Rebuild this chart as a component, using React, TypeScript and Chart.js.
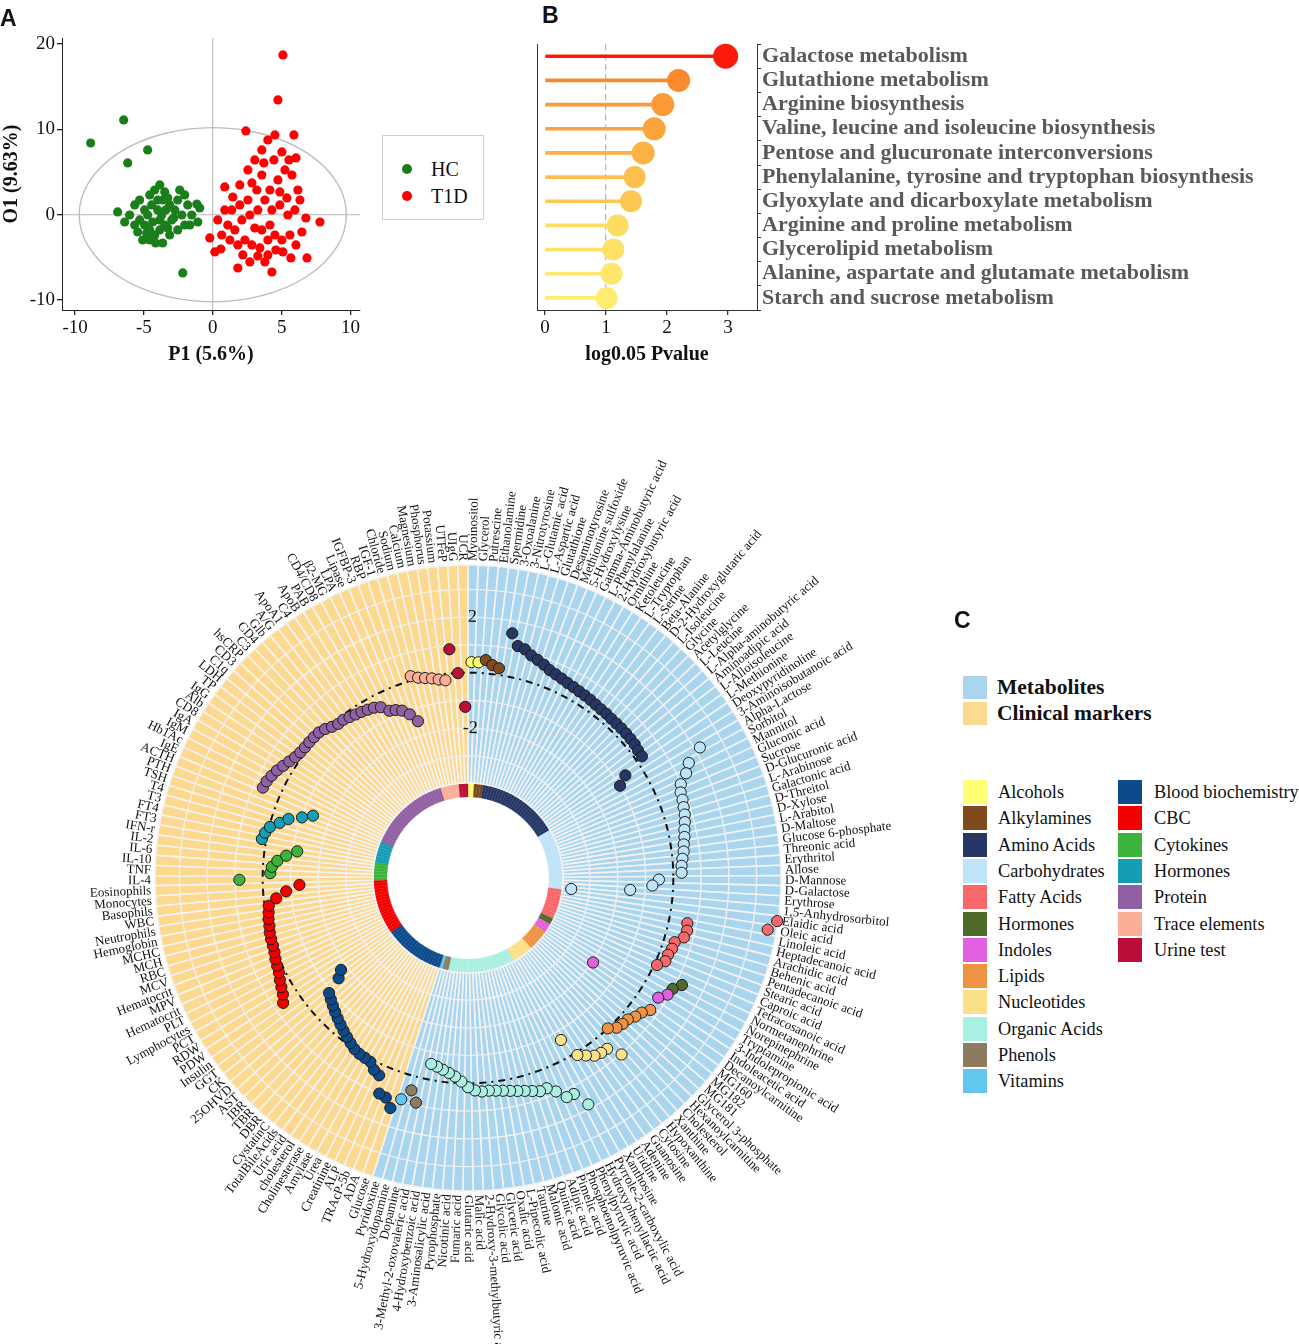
import React, { useEffect, useRef } from 'react';
import { Chart, registerables } from 'chart.js';

Chart.register(...registerables);

const SERIF = '"Liberation Serif", "Times New Roman", serif';
const SANS = '"Liberation Sans", Arial, sans-serif';

// ---------------- Panel A : OPLS-DA score plot ----------------
const hcX = [-8.87, -6.47, -6.18, -4.73, -6.91, -2.18, -1.16, -5.67, -5.31, -4.95, -4.58, -4.22, -3.85, -3.64, -3.49, -3.13, -2.76, -2.98, -3.49, -3.85, -4.22, -4.58, -4.95, -5.31, -5.45, -4.73, -4.36, -4.0, -3.71, -3.27, -2.55, -2.25, -2.04, -2.55, -3.13, -3.64, -4.58, -5.09, -5.67, -6.04, -1.82, -1.53, -2.4, -4.0, -4.44, -3.42, -2.84, -3.85, -4.8, -4.15, -3.27, -2.04, -1.67, -1.09, -0.95, -6.4];
const hcY = [8.4, 11.1, 6.06, 7.58, 0.32, -6.83, 1.25, 1.14, 1.72, 0.55, 2.31, 2.89, 3.48, 1.72, 2.66, 1.14, 0.55, -0.62, -1.21, -1.79, -2.38, -2.97, -1.21, -0.62, -2.03, -0.04, -0.86, 0.55, -0.04, 1.96, 1.72, -0.04, -1.21, -1.79, -2.38, -3.32, -1.79, -2.97, -1.21, -0.04, 1.14, -0.04, 2.89, 1.72, 1.14, 0.55, -0.39, -0.62, -2.15, -3.32, -1.56, 2.31, -1.21, -0.86, 0.79, -0.86];
const t1dX = [5.09, 4.73, 5.89, 2.4, 7.78, 6.84, 0.15, 1.82, 4.29, 3.78, 0.87, 1.45, 1.96, 2.55, 3.05, 3.56, 4.0, 4.51, 3.56, 4.15, 4.73, 5.24, 5.75, 6.18, 6.33, 5.96, 5.45, 4.87, 4.29, 3.78, 3.27, 2.69, 2.11, 1.6, 1.09, 0.65, 0.36, 2.33, 2.84, 3.42, 4.0, 4.51, 5.02, 5.6, 6.04, 6.47, 6.76, 4.15, 3.56, 3.05, 2.55, 1.96, 1.38, 0.87, 1.82, 2.18, 2.69, 3.27, 4.58, 5.09, 5.67, 4.0, 4.87, 5.38, 3.2, 3.71, 4.44, 5.02, 2.84, 5.53, 6.04, 1.24, 0.58, -0.22];
const t1dY = [18.72, 13.44, 9.34, 9.81, -0.86, -5.07, -4.37, -6.25, -6.72, -5.54, 3.25, 2.07, 3.48, 5.24, 6.41, 7.58, 8.75, 9.34, 4.65, 2.89, 4.07, 5.24, 4.65, 2.89, 1.72, 0.55, -0.04, 1.14, 0.55, 1.72, 0.55, -0.04, -0.62, -1.79, -1.21, -2.38, -0.62, -2.97, -3.55, -3.9, -2.97, -2.38, -2.97, -2.38, -3.55, -2.03, -0.39, -1.21, -1.79, -1.56, 1.72, 1.14, 0.55, 0.55, -3.55, -4.72, -5.54, -4.84, -4.14, -4.37, -5.07, -4.72, 2.66, 1.96, 2.89, 6.06, 6.41, 7.35, 3.72, 6.41, 6.65, -2.97, -4.02, -2.73];
const ellipseSemiX = 9.7;
const ellipseSemiY = 10.2;

// ---------------- Panel B : pathway enrichment ----------------
const pathwayNames = [
  'Galactose metabolism',
  'Glutathione metabolism',
  'Arginine biosynthesis',
  'Valine, leucine and isoleucine biosynthesis',
  'Pentose and glucuronate interconversions',
  'Phenylalanine, tyrosine and tryptophan biosynthesis',
  'Glyoxylate and dicarboxylate metabolism',
  'Arginine and proline metabolism',
  'Glycerolipid metabolism',
  'Alanine, aspartate and glutamate metabolism',
  'Starch and sucrose metabolism',
];
const pathwayLogP = [2.96, 2.19, 1.93, 1.79, 1.61, 1.47, 1.41, 1.19, 1.12, 1.09, 1.01];
const pathwayColors = ['#fb1a0c', '#fb8a2e', '#fb9a36', '#fca43c', '#fcb244', '#fdc04c', '#fdc852', '#fddc62', '#fde266', '#fee76b', '#feec70'];
const pathwayDotRadius = [12.5, 11.5, 11.5, 11.5, 11.5, 11, 11, 11, 11, 11, 11];

// ---------------- Panel C : circular plot ----------------
const alcoholsLabels = ['Myoinositol', 'Glycerol'];
const alcoholsValues = [0.38, 0.38];
const alkylaminesLabels = ['Putrescine', 'Ethanolamine', 'Spermidine'];
const alkylaminesValues = [0.48, 0.32, 0.24];
const aminoAcidsLabels = ['3-Oxoalanine', '3-Nitrotyrosine', 'L-Glutamic acid', 'L-Aspartic acid', 'Glutathione', 'Desaminotyrosine', 'Methionine sulfoxide', '5-Hydroxylysine', 'Gamma-Aminobutyric acid', 'L-Phenylalanine', '2-Hydroxybutyric acid', 'Ornithine', 'Ketoleucine', 'L-Tryptophan', 'L-Serine', 'Beta-Alanine', 'D-2-Hydroxyglutaric acid', 'L-Isoleucine', 'Glycine', 'Acetylglycine', 'L-Leucine', 'L-Alpha-aminobutyric acid', 'Aminoadipic acid', 'L-Alloisoleucine', 'L-Methionine', 'Deoxypyridinoline', '3-Aminoisobutanoic acid'];
const aminoAcidsValues = [1.56, 1.15, 1.09, 0.94, 0.85, 0.76, 0.65, 0.59, 0.54, 0.49, 0.46, 0.43, 0.41, 0.39, 0.36, 0.34, 0.34, 0.32, 0.32, 0.32, 0.32, 0.31, 0.3, 0.26, 0.25, -0.63, -0.99];
const carbohydratesLabels = ['Alpha-Lactose', 'Sorbitol', 'Mannitol', 'Gluconic acid', 'Sucrose', 'D-Glucuronic acid', 'L-Arabinose', 'Galactonic acid', 'D-Threitol', 'D-Xylose', 'L-Arabitol', 'D-Maltose', 'Glucose 6-phosphate', 'Threonic acid', 'Erythritol', 'Allose', 'D-Mannose', 'D-Galactose', 'Erythrose', '1,5-Anhydrosorbitol'];
const carbohydratesValues = [2.19, 1.57, 1.32, 0.98, 0.86, 0.83, 0.78, 0.74, 0.67, 0.59, 0.54, 0.47, 0.43, 0.36, 0.31, 0.3, -0.52, -0.75, -1.54, -3.66];
const fattyAcidsLabels = ['Elaidic acid', 'Oleic acid', 'Linoleic acid', 'Heptadecanoic acid', 'Arachidic acid', 'Behenic acid', 'Pentadecanoic acid', 'Stearic acid', 'Caproic acid', 'Tetracosanoic acid'];
const fattyAcidsValues = [3.85, 3.56, 0.67, 0.72, 0.67, 0.4, 0.38, 0.32, 0.32, 0.1];
const hormonesMetLabels = ['Normetanephrine', 'Norepinephrine'];
const hormonesMetValues = [1.22, 0.99];
const indolesLabels = ['Tryptamine', '3-Indolepropionic acid', 'Indoleacetic acid'];
const indolesValues = [0.93, 0.7, -1.96];
const lipidsLabels = ['Decanoylcarnitine', 'MG160', 'MG182', 'MG181', 'Glycerol 3-phosphate', 'Hexanoylcarnitine', 'Cholesterol'];
const lipidsValues = [0.71, 0.52, 0.43, 0.29, 0.26, 0.2, 0.0];
const nucleotidesLabels = ['Xanthine', 'Hypoxanthine', 'Cytosine', 'Guanosine', 'Adenine', 'Uridine', 'Xanthosine'];
const nucleotidesValues = [1.03, 0.54, 0.52, 0.46, 0.28, 0.1, -0.67];
const organicAcidsLabels = ['Pyrrole-2-carboxylic acid', 'Hydroxyphenyllactic acid', 'Phenylpyruvic acid', 'Phosphoenolpyruvic acid', 'Pimelic acid', 'Adipic acid', 'Quinic acid', 'Malonic acid', 'Taurine', 'L-Pipecolic acid', 'Oxalic acid', 'Glyceric acid', 'Glycolic acid', '2-Hydroxy-3-methylbutyric acid', 'Malic acid', 'Glutaric acid', 'Fumaric acid', 'Nicotinic acid', 'Pyrophosphate', '3-Aminosalicylic acid', '4-Hydroxybenzoic acid', '3-Methyl-2-oxovaleric acid'];
const organicAcidsValues = [1.84, 1.27, 1.26, 0.92, 0.69, 0.71, 0.62, 0.54, 0.48, 0.42, 0.37, 0.33, 0.3, 0.31, 0.26, 0.14, -0.06, -0.23, -0.34, -0.43, -0.51, -0.57];
const phenolsLabels = ['Dopamine', '5-Hydroxydopamine'];
const phenolsValues = [0.91, 0.52];
const vitaminsLabels = ['Pyridoxine'];
const vitaminsValues = [0.93];

const bloodLabels = ['Glucose', 'ADA', 'TRAcP-5b', 'ALP', 'Creatinine', 'Urea', 'Amylase', 'Cholinesterase', 'cholesterol', 'Uric acid', 'TotalBileAcids', 'CystatinC', 'DBR', 'TBR', 'IBR', 'AST', '25OHVD', 'CK', 'GGT', 'Insulin'];
const bloodValues = [1.35, 1.05, 1.0, 0.4, 0.3, 0.1, 0.07, 0.05, 0.0, -0.1, -0.2, -0.3, -0.4, -0.5, -0.6, -0.7, -0.8, -0.9, -1.5, -1.75];
const cbcLabels = ['PDW', 'RDW', 'PCT', 'Lymphocytes', 'PLT', 'Hematocrit', 'MPV', 'Hematocrit', 'MCV', 'RBC', 'MCH', 'MCHC', 'Hemoglobin', 'Neutrophils', 'WBC', 'Basophils', 'Monocytes', 'Eosinophils'];
const cbcValues = [0.64, 0.48, 0.39, 0.31, 0.22, 0.17, 0.13, 0.07, 0.04, 0.03, 0.01, -0.04, -0.06, -0.11, -0.15, -0.45, -0.83, -1.32];
const cytokinesLabels = ['IL-4', 'TNF', 'IL-10', 'IL-6', 'IL-2', 'IFN-r'];
const cytokinesValues = [0.84, -0.27, -0.32, -0.5, -0.8, -1.17];
const hormonesClinLabels = ['FT3', 'FT4', 'T3', 'T4', 'TSH', 'PTH', 'ACTH'];
const hormonesClinValues = [0.16, 0.09, -0.03, -0.33, -0.59, -1.03, -1.38];
const proteinLabels = ['IgE', 'Hb1Ac', 'IgM', 'IgA', 'CD8', 'Alb', 'IgG', 'TP', 'LDH', 'C1q', 'CD3', 'hsCRP', 'C3', 'CD4', 'Glb', 'A/G', 'ApoA1', 'C4', 'ApoB', 'PAB', 'CD4/CD8', 'β2-MG', 'LPA', 'Lipase', 'IGFBP-3', 'RBP', 'IGF-1'];
const proteinValues = [0.68, 0.65, 0.58, 0.5, 0.39, 0.29, 0.2, 0.15, 0.13, 0.13, 0.12, 0.11, 0.04, -0.07, -0.14, -0.14, -0.2, -0.25, -0.29, -0.34, -0.39, -0.49, -0.74, -0.81, -0.92, -1.14, -1.47];
const traceLabels = ['Chloride', 'Sodium', 'Calcium', 'Magnesium', 'Phosphorus', 'Potassium'];
const traceValues = [0.16, 0.04, -0.03, -0.09, -0.17, -0.23];
const urineLabels = ['UTFeP', 'UIgG', 'UCR'];
const urineValues = [0.87, -0.01, -1.23];

const radialTickLabels = [2, -2];

const METAB_BG = '#a9d5ee';
const CLIN_BG = '#fdd98f';

const metaboliteGroups = [
  { name: 'Alcohols', color: '#ffff73', labels: alcoholsLabels, values: alcoholsValues },
  { name: 'Alkylamines', color: '#7f4a1e', labels: alkylaminesLabels, values: alkylaminesValues },
  { name: 'Amino Acids', color: '#263766', labels: aminoAcidsLabels, values: aminoAcidsValues },
  { name: 'Carbohydrates', color: '#bfe4f7', labels: carbohydratesLabels, values: carbohydratesValues },
  { name: 'Fatty Acids', color: '#f8686a', labels: fattyAcidsLabels, values: fattyAcidsValues },
  { name: 'Hormones', color: '#4f6b2c', labels: hormonesMetLabels, values: hormonesMetValues },
  { name: 'Indoles', color: '#e25fe0', labels: indolesLabels, values: indolesValues },
  { name: 'Lipids', color: '#ee9343', labels: lipidsLabels, values: lipidsValues },
  { name: 'Nucleotides', color: '#fbe08a', labels: nucleotidesLabels, values: nucleotidesValues },
  { name: 'Organic Acids', color: '#aaf0e2', labels: organicAcidsLabels, values: organicAcidsValues },
  { name: 'Phenols', color: '#8d7b5f', labels: phenolsLabels, values: phenolsValues },
  { name: 'Vitamins', color: '#62c6ee', labels: vitaminsLabels, values: vitaminsValues },
];
const clinicalGroups = [
  { name: 'Blood biochemistry', color: '#0d4a8c', labels: bloodLabels, values: bloodValues },
  { name: 'CBC', color: '#f40000', labels: cbcLabels, values: cbcValues },
  { name: 'Cytokines', color: '#3cb43c', labels: cytokinesLabels, values: cytokinesValues },
  { name: 'Hormones', color: '#169db6', labels: hormonesClinLabels, values: hormonesClinValues },
  { name: 'Protein', color: '#915fa3', labels: proteinLabels, values: proteinValues },
  { name: 'Trace elements', color: '#fbae96', labels: traceLabels, values: traceValues },
  { name: 'Urine test', color: '#bb0f3a', labels: urineLabels, values: urineValues },
];

const allGroups = [
  ...metaboliteGroups.map((g) => ({ ...g, bg: METAB_BG })),
  ...clinicalGroups.map((g) => ({ ...g, bg: CLIN_BG })),
];
const circLabels = allGroups.flatMap((g) => g.labels);
const circValues = allGroups.flatMap((g) => g.values);
const circPointColors = allGroups.flatMap((g) => g.labels.map(() => g.color));
const circWedgeColors = allGroups.flatMap((g) => g.labels.map(() => g.bg));
const NC = circLabels.length;

// geometry of panel C canvas (page coords of canvas: left 0, top 440)
const C_LEFT = 0;
const C_TOP = 440;
const C_W = 960;
const C_H = 904;
const C_PAD = { left: 146, top: 116, right: 170, bottom: 144 };
const R_OUT = 313;
const R_WEDGE_IN = 95;
const R_RING_IN = 81;

const radialLabelPlugin = {
  id: 'radialLabels',
  afterDatasetsDraw(chart: any) {
    const scale = chart.scales.r;
    const ctx = chart.ctx;
    const labels: string[] = chart.data.labels;
    ctx.save();
    ctx.font = `13px ${SERIF}`;
    ctx.fillStyle = '#111';
    ctx.textBaseline = 'middle';
    labels.forEach((lab, i) => {
      const p = scale.getPointPosition(i, scale.drawingArea + 4);
      const a = scale.getIndexAngle(i);
      ctx.save();
      ctx.translate(p.x, p.y);
      if (a <= Math.PI + 1e-6) {
        ctx.rotate(p.angle);
        ctx.textAlign = 'left';
      } else {
        ctx.rotate(p.angle + Math.PI);
        ctx.textAlign = 'right';
      }
      ctx.fillText(lab, 0, 0);
      ctx.restore();
    });
    ctx.restore();
  },
};

const ellipsePlugin = {
  id: 'hotelling',
  beforeDatasetsDraw(chart: any) {
    const { x, y } = chart.scales;
    const ctx = chart.ctx;
    const cx = x.getPixelForValue(0);
    const cy = y.getPixelForValue(0);
    const rx = Math.abs(x.getPixelForValue(ellipseSemiX) - cx);
    const ry = Math.abs(y.getPixelForValue(ellipseSemiY) - cy);
    ctx.save();
    ctx.strokeStyle = '#bdbdbd';
    ctx.lineWidth = 1.4;
    ctx.beginPath();
    ctx.ellipse(cx, cy, rx, ry, 0, 0, Math.PI * 2);
    ctx.stroke();
    ctx.restore();
  },
};

const leftFramePlugin = {
  id: 'leftFrame',
  afterDraw(chart: any) {
    const { left, top, bottom } = chart.chartArea;
    const ctx = chart.ctx;
    ctx.save();
    ctx.strokeStyle = '#333';
    ctx.lineWidth = 1;
    ctx.beginPath();
    ctx.moveTo(left + 0.5, top);
    ctx.lineTo(left + 0.5, bottom);
    ctx.stroke();
    ctx.restore();
  },
};

function useChart(ref: React.RefObject<HTMLCanvasElement>, make: () => any) {
  useEffect(() => {
    if (!ref.current) return;
    const chart = new Chart(ref.current, make());
    return () => chart.destroy();
  }, []);
}

const abs = (left: number, top: number, extra: React.CSSProperties = {}): React.CSSProperties => ({
  position: 'absolute',
  left,
  top,
  ...extra,
});

function Txt(props: { x: number; y: number; size: number; bold?: boolean; family?: string; children: React.ReactNode; color?: string }) {
  return (
    <div
      style={abs(props.x, props.y, {
        transform: 'translateY(-50%)',
        fontFamily: props.family || SERIF,
        fontSize: props.size,
        fontWeight: props.bold ? 700 : 400,
        color: props.color || '#111',
        whiteSpace: 'nowrap',
        lineHeight: 1,
      })}
    >
      {props.children}
    </div>
  );
}

export default function App() {
  const refA = useRef<HTMLCanvasElement>(null);
  const refB = useRef<HTMLCanvasElement>(null);
  const refC1 = useRef<HTMLCanvasElement>(null);
  const refC2 = useRef<HTMLCanvasElement>(null);

  useChart(refA, () => ({
    type: 'scatter',
    data: {
      datasets: [
        {
          label: 'HC',
          data: hcX.map((x, i) => ({ x, y: hcY[i] })),
          pointBackgroundColor: '#1a7f1a',
          pointBorderWidth: 0,
          pointRadius: 4.6,
        },
        {
          label: 'T1D',
          data: t1dX.map((x, i) => ({ x, y: t1dY[i] })),
          pointBackgroundColor: '#ff0000',
          pointBorderWidth: 0,
          pointRadius: 4.6,
        },
      ],
    },
    options: {
      animation: false,
      responsive: false,
      events: [],
      layout: { autoPadding: false, padding: { top: 38, right: 20, left: 0, bottom: 0 } },
      plugins: { legend: { display: false }, tooltip: { enabled: false } },
      scales: {
        x: {
          type: 'linear',
          min: -10.95,
          max: 10.69,
          afterFit: (s: any) => {
            s.height = 70;
          },
          ticks: { stepSize: 5, includeBounds: false, font: { family: SERIF, size: 19 }, color: '#111', padding: 2 },
          grid: {
            color: (c: any) => (c.tick && c.tick.value === 0 ? '#c4c4c4' : 'transparent'),
            lineWidth: 1.3,
            tickColor: '#222',
            tickLength: 5,
          },
          border: { display: true, color: '#222', width: 1 },
          title: { display: true, text: 'P1 (5.6%)', font: { family: SERIF, size: 20, weight: 'bold' }, color: '#111', padding: { top: 0, bottom: 13 } },
        },
        y: {
          type: 'linear',
          min: -11.17,
          max: 20.7,
          afterFit: (s: any) => {
            s.width = 62;
          },
          ticks: { stepSize: 10, includeBounds: false, font: { family: SERIF, size: 19 }, color: '#111', padding: 2 },
          grid: {
            color: (c: any) => (c.tick && c.tick.value === 0 ? '#c4c4c4' : 'transparent'),
            lineWidth: 1.3,
            tickColor: '#222',
            tickLength: 5,
          },
          border: { display: true, color: '#222', width: 1 },
          title: { display: true, text: 'O1 (9.63%)', font: { family: SERIF, size: 20, weight: 'bold' }, color: '#111', padding: { top: 0, bottom: 0 } },
        },
      },
    },
    plugins: [ellipsePlugin],
  }));

  useChart(refB, () => ({
    type: 'bar',
    data: {
      labels: pathwayNames,
      datasets: [
        {
          type: 'line',
          indexAxis: 'y',
          data: pathwayLogP,
          showLine: false,
          pointRadius: pathwayDotRadius,
          pointBackgroundColor: pathwayColors,
          pointBorderWidth: 0,
          order: 1,
        },
        {
          type: 'bar',
          indexAxis: 'y',
          data: pathwayLogP,
          backgroundColor: pathwayColors,
          barThickness: 3,
          borderWidth: 0,
          order: 2,
        },
      ],
    },
    options: {
      indexAxis: 'y',
      animation: false,
      responsive: false,
      events: [],
      layout: { autoPadding: false, padding: { left: 7, top: 14, right: 0, bottom: 0 } },
      plugins: { legend: { display: false }, tooltip: { enabled: false } },
      scales: {
        x: {
          type: 'linear',
          min: -0.131,
          max: 3.475,
          afterFit: (s: any) => {
            s.height = 70;
          },
          ticks: { stepSize: 1, includeBounds: false, font: { family: SERIF, size: 19 }, color: '#111', padding: 2 },
          grid: {
            color: (c: any) => (c.tick && c.tick.value === 1 ? '#b8b8b8' : 'transparent'),
            lineWidth: 1.3,
            tickColor: '#333',
            tickLength: 5,
          },
          border: { display: true, color: '#333', width: 1, dash: (c: any) => (c.tick && c.tick.value === 1 ? [6, 4] : []) },
          title: { display: true, text: 'log0.05 Pvalue', font: { family: SERIF, size: 20, weight: 'bold' }, color: '#111', padding: { top: 0, bottom: 13 } },
        },
        y: {
          type: 'category',
          position: 'right',
          afterFit: (s: any) => {
            s.width = 542;
          },
          ticks: { autoSkip: false, font: { family: SERIF, size: 22, weight: 'bold' }, color: '#595959', padding: 1 },
          grid: { drawOnChartArea: false, tickColor: '#333', tickLength: 4 },
          border: { display: true, color: '#333', width: 1 },
        },
      },
    },
    plugins: [leftFramePlugin],
  }));

  useChart(refC1, () => ({
    type: 'doughnut',
    data: {
      labels: circLabels,
      datasets: [
        {
          data: circLabels.map(() => 1),
          backgroundColor: circWedgeColors,
          borderColor: '#f3f3f3',
          borderWidth: 1.6,
          weight: R_OUT - R_WEDGE_IN,
          hoverOffset: 0,
        },
        {
          data: circLabels.map(() => 1),
          backgroundColor: circPointColors,
          borderColor: circPointColors,
          borderWidth: 0.3,
          weight: R_WEDGE_IN - R_RING_IN,
          hoverOffset: 0,
        },
      ],
    },
    options: {
      animation: false,
      responsive: false,
      events: [],
      radius: R_OUT,
      cutout: `${(R_RING_IN / R_OUT) * 100}%`,
      layout: { padding: C_PAD },
      plugins: { legend: { display: false }, tooltip: { enabled: false } },
    },
  }));

  useChart(refC2, () => ({
    type: 'radar',
    data: {
      labels: circLabels,
      datasets: [
        {
          data: circValues,
          showLine: false,
          fill: false,
          borderWidth: 0,
          backgroundColor: 'transparent',
          pointRadius: 5.6,
          pointBorderWidth: 1,
          pointBorderColor: '#1c1c1c',
          pointBackgroundColor: circPointColors,
        },
      ],
    },
    options: {
      animation: false,
      responsive: false,
      events: [],
      layout: { padding: C_PAD },
      plugins: { legend: { display: false }, tooltip: { enabled: false } },
      scales: {
        r: {
          min: -7.4,
          max: 3.88,
          startAngle: 180 / NC,
          angleLines: { display: false },
          pointLabels: { display: false },
          grid: {
            circular: true,
            color: (c: any) => {
              const v = c.tick ? c.tick.value : NaN;
              if (v === 0) return '#111';
              if (Number.isInteger(v) && v >= -3 && v <= 3) return 'rgba(240,240,240,0.95)';
              return 'transparent';
            },
            lineWidth: (c: any) => (c.tick && c.tick.value === 0 ? 2 : 1.4),
          },
          border: { dash: (c: any) => (c.tick && c.tick.value === 0 ? [7, 5, 2, 5] : []) },
          ticks: {
            stepSize: 1,
            display: true,
            showLabelBackdrop: false,
            backdropPadding: 0,
            font: { family: SERIF, size: 18 },
            color: '#111',
            callback: (v: number) => (radialTickLabels.includes(v) ? String(v) : ''),
          },
        },
      },
    },
    plugins: [radialLabelPlugin],
  }));

  const legendRow = 26.3;
  return (
    <div style={abs(0, 0, { width: 1299, height: 1344, background: '#fff', overflow: 'hidden' })}>
      <canvas ref={refA} width={380} height={380} style={abs(0, 0)} />
      <canvas ref={refB} width={769} height={350} style={abs(530, 30)} />
      <canvas ref={refC1} width={C_W} height={C_H} style={abs(C_LEFT, C_TOP)} />
      <canvas ref={refC2} width={C_W} height={C_H} style={abs(C_LEFT, C_TOP)} />

      <Txt x={0} y={18} size={23} bold family={SANS}>A</Txt>
      <Txt x={542} y={15} size={23} bold family={SANS}>B</Txt>
      <Txt x={954} y={620} size={23} bold family={SANS}>C</Txt>

      {/* Legend A */}
      <div style={abs(382, 135, { width: 100, height: 83, border: '1px solid #cfcfcf' })} />
      <div style={abs(402, 164, { width: 10, height: 10, borderRadius: 5, background: '#1a7f1a' })} />
      <div style={abs(402, 191, { width: 10, height: 10, borderRadius: 5, background: '#ff0000' })} />
      <Txt x={431} y={169} size={20}>HC</Txt>
      <Txt x={431} y={196} size={20}>T1D</Txt>

      {/* Legend C */}
      <div style={abs(963, 676, { width: 24, height: 23, background: METAB_BG })} />
      <div style={abs(963, 702, { width: 24, height: 23, background: CLIN_BG })} />
      <Txt x={997} y={688} size={21.5} bold>Metabolites</Txt>
      <Txt x={997} y={714} size={21.5} bold>Clinical markers</Txt>
      {metaboliteGroups.map((g, i) => (
        <React.Fragment key={'m' + i}>
          <div style={abs(963, 780 + i * legendRow, { width: 24, height: 24, background: g.color })} />
          <Txt x={998} y={792 + i * legendRow} size={18.3}>{g.name}</Txt>
        </React.Fragment>
      ))}
      {clinicalGroups.map((g, i) => (
        <React.Fragment key={'c' + i}>
          <div style={abs(1118, 780 + i * legendRow, { width: 24, height: 24, background: g.color })} />
          <Txt x={1154} y={792 + i * legendRow} size={18.3}>{g.name}</Txt>
        </React.Fragment>
      ))}
    </div>
  );
}
